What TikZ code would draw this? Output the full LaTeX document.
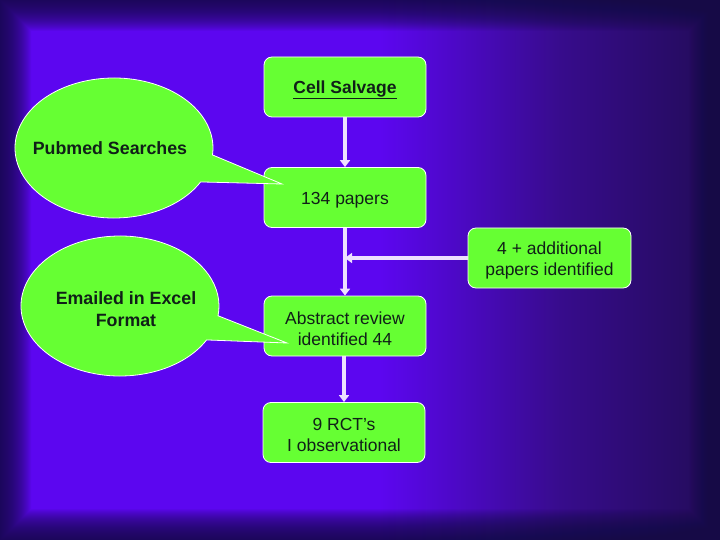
\documentclass[tikz,border=0pt]{standalone}
\usepackage{fontspec}
\setmainfont{Liberation Sans}
\usetikzlibrary{arrows.meta}
\definecolor{bgbright}{RGB}{92,6,240}
\definecolor{bgmid}{RGB}{55,12,140}
\definecolor{bgright}{RGB}{34,12,88}
\definecolor{vig}{RGB}{22,10,70}
\definecolor{boxgreen}{RGB}{102,255,51}
\definecolor{txt}{RGB}{16,32,24}
\definecolor{arrcol}{RGB}{238,224,255}
\newcommand{\mystrut}{\rule{0pt}{18pt}}
\tikzset{
  x=1pt, y=-1pt,
  flowbox/.style={rounded corners=8pt, fill=boxgreen, draw=white, line width=0.8pt,
    text=txt, align=center, minimum width=162pt, minimum height=60pt, inner sep=2pt,
    font=\fontsize{17.5}{21}\selectfont},
  callout/.style={fill=boxgreen, draw=white, line width=0.8pt},
  callouttext/.style={text=txt, align=center, font=\fontsize{17.8}{21.5}\selectfont\bfseries},
  arr/.style={draw=arrcol, line width=4pt, -{Triangle[length=7pt,width=10pt]}}
}
\begin{document}
\begin{tikzpicture}
\useasboundingbox (0,0) rectangle (720,540);
% background
\fill[bgbright] (0,0) rectangle (381,540);
\shade[left color=bgbright, right color=bgmid] (380,0) rectangle (561,540);
\shade[left color=bgmid, right color=bgright] (560,0) rectangle (720,540);
\foreach \i in {0,...,31}{
  \fill[vig, opacity=0.055, even odd rule] (0,0) rectangle (720,540) (\i,\i) rectangle (720-\i,540-\i);
}

% boxes
\node[flowbox] (cs) at (345,87) {\mystrut\textbf{\underline{Cell Salvage}}};
\node[flowbox] (p134) at (345,197.5) {\mystrut 134 papers};
\node[flowbox, minimum width=163pt] (add) at (549.5,258) {\mystrut 4 + additional\\papers identified};
\node[flowbox] (abs) at (345,326) {\mystrut Abstract review\\identified 44};
\node[flowbox] (rct) at (344,432.5) {\mystrut 9 RCT's\\I observational};
\coordinate (j) at (345,258);

% arrows
\draw[arr] (cs.south) -- (p134.north);
\draw[arr] (p134.south) -- (abs.north);
\draw[arr] (add.west) -- (j);
\draw[arr] (abs.south -| rct.north) -- (rct.north);

% callouts
\path[callout] (114,148) ++({99*cos(29)},{70*sin(29)})
  arc[start angle=29, end angle=365.7, x radius=99, y radius=70]
  -- (282,184) coordinate (ptip) -- cycle;
\node[callouttext] (pub) at (110,148) {Pubmed Searches};

\path[callout] (120,306) ++({99*cos(29)},{70*sin(29)})
  arc[start angle=29, end angle=368, x radius=99, y radius=70]
  -- (287,343) coordinate (etip) -- cycle;
\node[callouttext] (email) at (126,309) {Emailed in Excel\\Format};
\end{tikzpicture}
\end{document}
